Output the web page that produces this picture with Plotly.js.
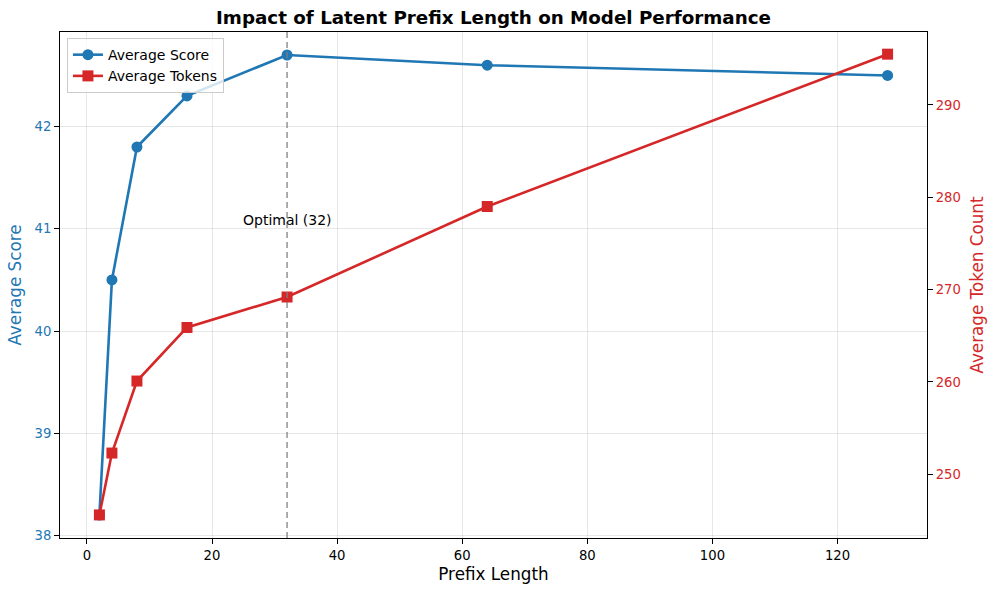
<!DOCTYPE html>
<html>
<head>
<meta charset="utf-8">
<script src="https://cdn.plot.ly/plotly-3.0.1.min.js"></script>
<style>html,body{margin:0;padding:0;background:#fff;}#chart{width:996px;height:594px;}</style>
</head>
<body>
<div id="chart"></div>
<script>
var prefixLengths = [2, 4, 8, 16, 32, 64, 128];
var avgScore = [38.2, 40.5, 41.8, 42.3, 42.7, 42.6, 42.5];
var avgTokens = [245.6, 252.3, 260.1, 265.9, 269.2, 279.0, 295.5];
var optimalPrefix = 32;
var optimalLabel = "Optimal (32)";

var blue = '#1f77b4', red = '#d62728';
var font = 'DejaVu Sans, sans-serif';

var traces = [
  {x: prefixLengths, y: avgScore, name: 'Average Score', type: 'scatter', mode: 'lines+markers',
   line: {color: blue, width: 2.6}, marker: {symbol: 'circle', size: 11, color: blue}, yaxis: 'y'},
  {x: prefixLengths, y: avgTokens, name: 'Average Tokens', type: 'scatter', mode: 'lines+markers',
   line: {color: red, width: 2.6}, marker: {symbol: 'square', size: 11, color: red}, yaxis: 'y2'}
];

var layout = {
  width: 996, height: 594,
  margin: {l: 60, r: 69, t: 32, b: 56},
  paper_bgcolor: '#fff', plot_bgcolor: '#fff',
  font: {family: font, size: 13, color: '#000'},
  title: {text: '<b>Impact of Latent Prefix Length on Model Performance</b>', font: {family: font, size: 18.3, color: '#000'},
          x: 0.5, xref: 'paper', y: 0.97, yanchor: 'middle'},
  showlegend: true,
  legend: {x: 0.008, y: 0.988, xanchor: 'left', yanchor: 'top', bgcolor: 'rgba(255,255,255,0.8)',
           bordercolor: '#cccccc', borderwidth: 1, font: {family: font, size: 14}, tracegroupgap: 0},
  xaxis: {range: [-4.3, 134.3], tickvals: [0, 20, 40, 60, 80, 100, 120], ticks: 'outside', ticklen: 5, tickcolor: '#000',
          showline: true, linecolor: '#000', linewidth: 1, mirror: true, zeroline: false,
          showgrid: true, gridcolor: 'rgba(176,176,176,0.3)', gridwidth: 1,
          tickfont: {family: font, size: 13.2, color: '#000'},
          title: {text: 'Prefix Length', font: {family: font, size: 16.8, color: '#000'}, standoff: 6}},
  yaxis: {range: [37.975, 42.925], tickvals: [38, 39, 40, 41, 42], ticks: 'outside', ticklen: 5, tickcolor: '#000',
          showline: true, linecolor: '#000', linewidth: 1, zeroline: false,
          showgrid: true, gridcolor: 'rgba(176,176,176,0.3)', gridwidth: 1,
          tickfont: {family: font, size: 13.2, color: blue},
          title: {text: 'Average Score', font: {family: font, size: 16.8, color: blue}, standoff: 8}},
  yaxis2: {range: [243.1, 297.9], tickvals: [250, 260, 270, 280, 290], overlaying: 'y', side: 'right',
           ticks: 'outside', ticklen: 5, tickcolor: '#000', showline: true, linecolor: '#000', linewidth: 1,
           zeroline: false, showgrid: false,
           tickfont: {family: font, size: 13.2, color: red},
           title: {text: 'Average Token Count', font: {family: font, size: 16.8, color: red}, standoff: 11}},
  shapes: [{type: 'line', xref: 'x', yref: 'paper', x0: optimalPrefix, x1: optimalPrefix, y0: 0, y1: 1,
            line: {color: 'rgba(128,128,128,0.8)', width: 1.6, dash: '6px,4px'}}],
  annotations: [{x: optimalPrefix, y: 40.99, xref: 'x', yref: 'y', text: optimalLabel, showarrow: false,
                 xanchor: 'center', yanchor: 'bottom', font: {family: font, size: 14, color: '#000'}}]
};

Plotly.newPlot('chart', traces, layout, {displayModeBar: false, staticPlot: true});
</script>
</body>
</html>
